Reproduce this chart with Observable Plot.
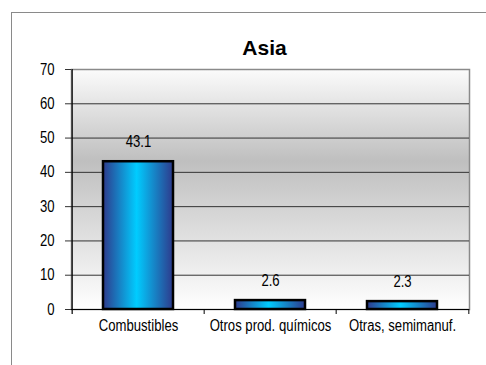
<!DOCTYPE html>
<html><head><meta charset="utf-8">
<script src="https://cdn.jsdelivr.net/npm/d3@7"></script>
<script src="https://cdn.jsdelivr.net/npm/@observablehq/plot@0.6"></script>
<style>
html,body{margin:0;padding:0;background:#fff;overflow:hidden;}
#wrap{position:relative;width:486px;height:365px;}
#box{position:absolute;left:11px;top:12px;width:520px;height:400px;border:1.5px solid #8a8a8a;box-sizing:border-box;}
#chart{position:absolute;left:0;top:0;}
</style></head>
<body>
<div id="wrap"><div id="box"></div><div id="chart"></div></div>
<script>
const title = "Asia";
const categories = ["Combustibles", "Otros prod. químicos", "Otras, semimanuf."];
const values = [43.1, 2.6, 2.3];
const yTicks = [0, 10, 20, 30, 40, 50, 60, 70];

const data = categories.map((c, i) => ({cat: c, value: values[i]}));

const W = 486, H = 365, ML = 71, MR = 17, MT = 69, MB = 56;
const halfBand = (W - ML - MR) / categories.length / 2;
const font = "'Liberation Sans', Arial, sans-serif";
const condense = 0.82;

const chart = Plot.plot({
  width: W, height: H,
  marginLeft: ML, marginRight: MR, marginTop: MT, marginBottom: MB,
  style: {fontFamily: font, fontSize: "16px", color: "#000", background: "transparent"},
  x: {domain: categories, paddingInner: 0.47, paddingOuter: 0.235, label: null},
  y: {domain: [0, 70], label: null},
  marks: [
    Plot.frame({fill: "url(#bgGrad)", stroke: "#8a8a8a", strokeWidth: 1.5}),
    Plot.gridY(yTicks.filter(d => d > 0 && d < 70), {stroke: "#333", strokeOpacity: 1, strokeWidth: 1}),
    Plot.axisY(yTicks, {tickSize: 6, tickPadding: 11, fontSize: 16, stroke: "#333", label: null}),
    Plot.axisX({tickSize: 0, tickPadding: 10, fontSize: 16, label: null}),
    Plot.barY(data, {x: "cat", y: "value", fill: "url(#barGrad)", stroke: "#000", strokeWidth: 2.5}),
    Plot.text(data, {x: "cat", y: "value", text: d => d.value.toFixed(1), dy: -20, fontSize: 16, lineAnchor: "middle"}),
    Plot.ruleY([0], {stroke: "#000", strokeWidth: 1.2}),
    Plot.ruleX([categories[0]], {dx: -halfBand, stroke: "#000", strokeWidth: 1.2, insetBottom: -5}),
    Plot.ruleX(categories.slice(1), {dx: -halfBand, stroke: "#000", insetTop: H - MT - MB, insetBottom: -5}),
    Plot.ruleX([categories[categories.length - 1]], {dx: halfBand, stroke: "#000", insetTop: H - MT - MB, insetBottom: -5}),
    Plot.text([title], {frameAnchor: "top", text: d => d, dx: -6, dy: -15, lineAnchor: "bottom", fontSize: 21, fontWeight: "bold"})
  ]
});

const svg = d3.select(chart);
// condensed look of the original (Arial Narrow-like labels)
svg.selectAll("text").each(function () {
  if (this.textContent === title) return;
  const t = this.getAttribute("transform") || "";
  this.setAttribute("transform", (t + ` scale(${condense},1)`).trim());
});
const defs = svg.insert("defs", ":first-child");
const bg = defs.append("linearGradient").attr("id", "bgGrad").attr("x1", 0).attr("y1", 0).attr("x2", 0).attr("y2", 1);
bg.append("stop").attr("offset", "0%").attr("stop-color", "#fbfbfb");
bg.append("stop").attr("offset", "38%").attr("stop-color", "#bfbfbf");
bg.append("stop").attr("offset", "100%").attr("stop-color", "#ffffff");
const bar = defs.append("linearGradient").attr("id", "barGrad").attr("x1", 0).attr("y1", 0).attr("x2", 1).attr("y2", 0);
bar.append("stop").attr("offset", "0%").attr("stop-color", "#2e3a8c");
bar.append("stop").attr("offset", "48%").attr("stop-color", "#00ccff");
bar.append("stop").attr("offset", "100%").attr("stop-color", "#2e3a8c");

document.getElementById("chart").appendChild(chart);
</script>
</body></html>
